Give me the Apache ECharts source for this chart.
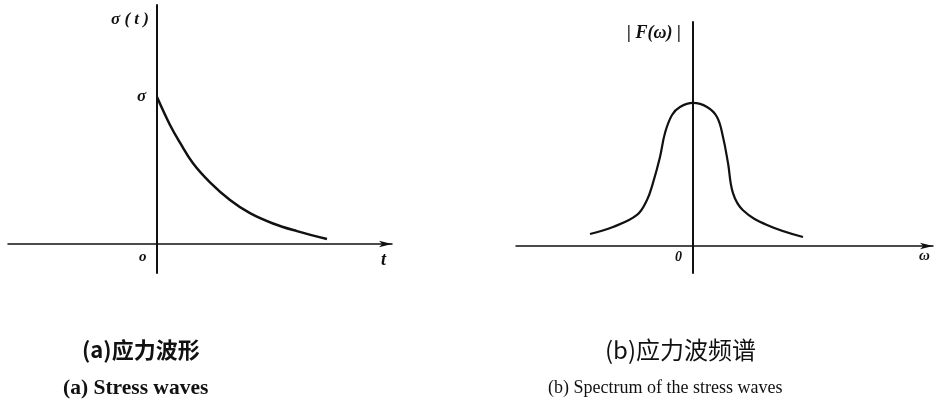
<!DOCTYPE html>
<html>
<head>
	<meta charset="utf-8">
	<style>
		html, body { margin: 0; padding: 0; background: #fff; }
		#chart { width: 939px; height: 403px; }
	</style>
</head>
<body>
	<div id="chart"></div>
	<script src="https://cdn.jsdelivr.net/npm/echarts@6/dist/echarts.min.js"></script>
	<script>
	// (a) stress wave, sigma(t) / sigma
	var waveT = [0, 0.13, 0.23, 0.36, 0.53, 0.73, 0.93, 1.16, 1.40, 1.70];
	var waveS = [1.0, 0.81, 0.69, 0.55, 0.42, 0.30, 0.21, 0.14, 0.088, 0.034];
	// (b) spectrum |F(w)|
	var specW = [-1.03, -0.80, -0.56, -0.46, -0.40, -0.33, -0.28, -0.21, -0.13, 0, 0.14, 0.24, 0.30, 0.35, 0.40, 0.50, 0.74, 1.10];
	var specF = [0.084, 0.133, 0.217, 0.322, 0.441, 0.622, 0.79, 0.916, 0.972, 1.0, 0.972, 0.902, 0.762, 0.58, 0.37, 0.25, 0.147, 0.063];
	// axis ranges
	var rangeA = { xmin: -1.49, xmax: 2.35, ymin: -0.197, ymax: 1.626 };
	var rangeB = { xmin: -1.77, xmax: 2.40, ymin: -0.189, ymax: 1.566 };

	var ink = '#111';
	var pairs = function(xs, ys) {
		return xs.map(function(x, i) { return [x, ys[i]]; });
	};
	var axisBase = function(idx, mn, mx, isX) {
		return {
			type: 'value',
			gridIndex: idx,
			min: mn,
			max: mx,
			axisLine: {
				show: true,
				onZero: true,
				symbol: isX ? ['none', 'arrow'] : 'none',
				symbolSize: [5, 13],
				lineStyle: { color: ink, width: isX ? 1.5 : 2 }
			},
			axisTick: { show: false },
			axisLabel: { show: false },
			splitLine: { show: false }
		};
	};
	var italic = function(x, y, txt, size) {
		return {
			type: 'text', left: x, top: y,
			style: { text: txt, fill: ink, font: 'italic bold ' + size + 'px "Liberation Serif"' }
		};
	};
	var caption = function(x, y, txt, size, weight, family) {
		return {
			type: 'text', left: x, top: y,
			style: { text: txt, fill: ink, font: weight + ' ' + size + 'px ' + family }
		};
	};

	var chart = echarts.init(document.getElementById('chart'));
	chart.setOption({
		animation: false,
		grid: [
			{ left: 8, top: 5, width: 384, height: 268 },
			{ left: 516, top: 22, width: 417, height: 251 }
		],
		xAxis: [
			axisBase(0, rangeA.xmin, rangeA.xmax, true),
			axisBase(1, rangeB.xmin, rangeB.xmax, true)
		],
		yAxis: [
			axisBase(0, rangeA.ymin, rangeA.ymax, false),
			axisBase(1, rangeB.ymin, rangeB.ymax, false)
		],
		series: [{
			type: 'line',
			xAxisIndex: 0, yAxisIndex: 0,
			data: pairs(waveT, waveS),
			smooth: 0.4,
			symbol: 'none',
			lineStyle: { color: ink, width: 2.5 }
		}, {
			type: 'line',
			xAxisIndex: 1, yAxisIndex: 1,
			data: pairs(specW, specF),
			smooth: 0.4,
			symbol: 'none',
			lineStyle: { color: ink, width: 2.2 }
		}],
		graphic: [
			italic(111, 11, 'σ ( t )', 17),
			italic(137, 88, 'σ', 17),
			italic(139, 250, 'o', 15),
			italic(381, 251, 't', 18),
			italic(627, 24, '| F(ω) |', 18),
			italic(675, 250, '0', 14),
			italic(919, 249, 'ω', 15),
			caption(82, 339, '(a)应力波形', 22, 'bold', '"Noto Sans CJK SC"'),
			caption(63, 377, '(a) Stress waves', 21.5, 'bold', '"Liberation Serif"'),
			caption(605, 338, '(b)应力波频谱', 24, 'normal', '"Noto Sans CJK SC"'),
			caption(548, 379, '(b) Spectrum of the stress waves', 18, 'normal', '"Liberation Serif"')
		]
	});
	</script>
</body>
</html>
